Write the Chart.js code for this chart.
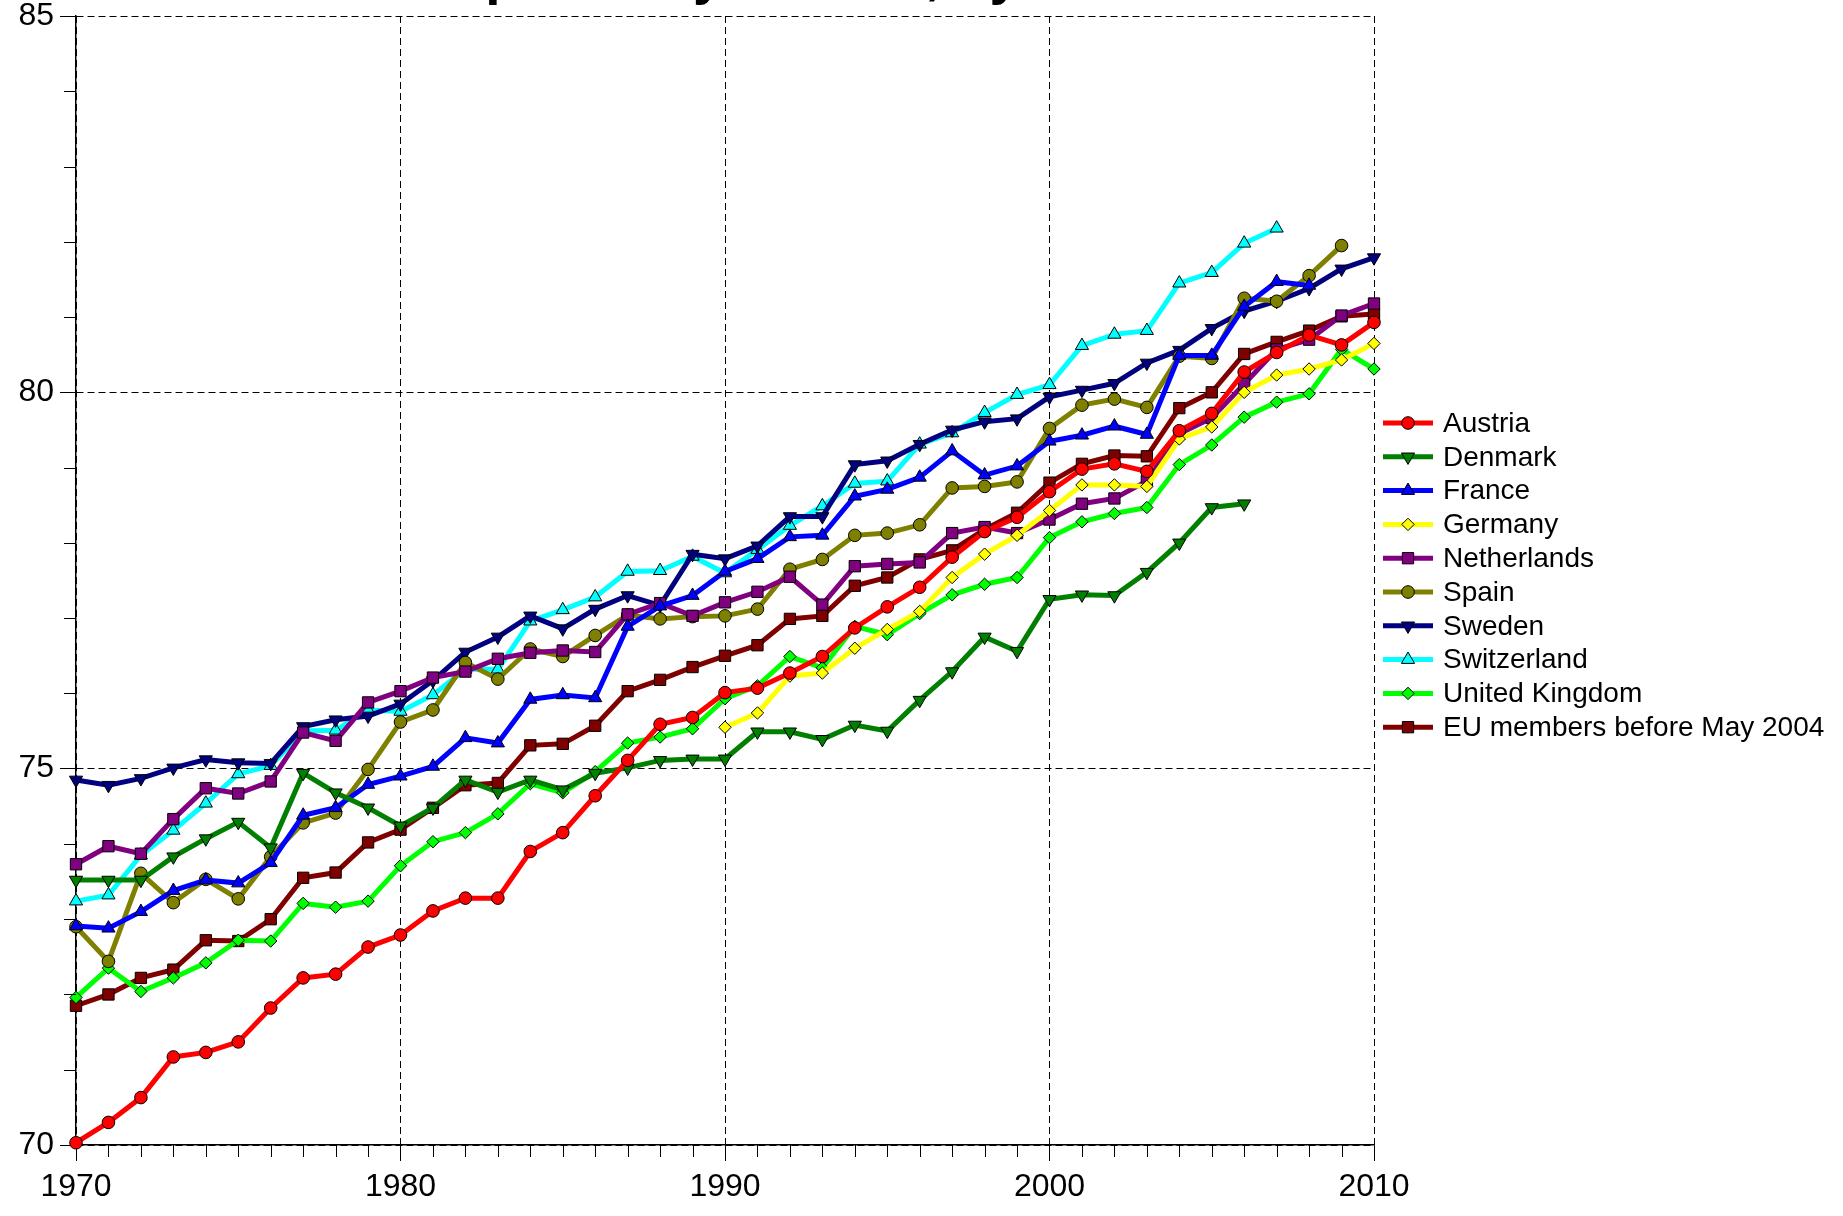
<!DOCTYPE html>
<html>
<head>
<meta charset="utf-8">
<script src="https://cdn.jsdelivr.net/npm/chart.js@4/dist/chart.umd.min.js"></script>
<style>
html,body{margin:0;padding:0;background:#fff;overflow:hidden}
#wrap{position:relative;width:1843px;height:1216px;background:#fff}
</style>
</head>
<body>
<div id="wrap"><canvas id="c" width="1843" height="1216"></canvas></div>
<script>
// ---------- data ----------
const TITLE = 'Life expectancy at birth, by sex';

const years = [1970,1971,1972,1973,1974,1975,1976,1977,1978,1979,
               1980,1981,1982,1983,1984,1985,1986,1987,1988,1989,
               1990,1991,1992,1993,1994,1995,1996,1997,1998,1999,
               2000,2001,2002,2003,2004,2005,2006,2007,2008,2009,2010];

const xTickLabels = [1970,1980,1990,2000,2010];
const yTickLabels = [70,75,80,85];

const seriesNames = ['Austria','Denmark','France','Germany','Netherlands','Spain',
                     'Sweden','Switzerland','United Kingdom','EU members before May 2004'];

const austria = [70.03,70.30,70.63,71.17,71.23,71.37,71.82,72.22,72.27,72.63,
                 72.79,73.11,73.28,73.28,73.90,74.15,74.64,75.11,75.59,75.68,
                 76.01,76.07,76.27,76.49,76.87,77.15,77.41,77.81,78.15,78.34,
                 78.68,78.98,79.05,78.95,79.49,79.72,80.27,80.53,80.76,80.63,80.93];

const denmark = [73.52,73.52,73.52,73.83,74.07,74.29,73.95,74.94,74.68,74.48,
                 74.24,74.48,74.85,74.69,74.85,74.72,74.94,75.01,75.11,75.13,
                 75.13,75.49,75.49,75.39,75.58,75.50,75.91,76.29,76.75,76.56,
                 77.25,77.31,77.30,77.61,78.00,78.47,78.52,null,null,null,null];

const france = [72.91,72.88,73.10,73.38,73.52,73.48,73.75,74.38,74.48,74.79,
                74.90,75.03,75.41,75.34,75.92,75.98,75.94,76.89,77.16,77.30,
                77.62,77.79,78.08,78.10,78.62,78.71,78.87,79.22,78.90,79.02,
                79.35,79.43,79.55,79.44,80.49,80.49,81.14,81.47,81.42,null,null];

const germany = [null,null,null,null,null,null,null,null,null,null,
                 null,null,null,null,null,null,null,null,null,null,
                 75.55,75.74,76.23,76.27,76.60,76.85,77.09,77.54,77.85,78.10,
                 78.43,78.77,78.77,78.75,79.38,79.54,80.00,80.23,80.31,80.43,80.65];

const netherlands = [73.73,73.97,73.87,74.33,74.74,74.67,74.83,75.48,75.37,75.88,
                     76.03,76.21,76.29,76.46,76.54,76.57,76.55,77.05,77.20,77.03,
                     77.21,77.35,77.55,77.18,77.69,77.72,77.74,78.13,78.21,78.13,
                     78.31,78.52,78.59,78.82,79.45,79.66,80.11,80.57,80.70,81.02,81.18];

const spain = [72.90,72.44,73.61,73.22,73.53,73.27,73.83,74.28,74.41,74.99,
               75.62,75.78,76.41,76.19,76.59,76.49,76.77,77.04,76.99,77.02,
               77.03,77.12,77.65,77.78,78.10,78.13,78.24,78.73,78.75,78.81,
               79.52,79.83,79.91,79.80,80.48,80.45,81.25,81.21,81.55,81.95,null];

const sweden = [74.85,74.78,74.87,75.01,75.12,75.08,75.07,75.56,75.65,75.70,
                75.86,76.17,76.55,76.75,77.03,76.86,77.12,77.30,77.17,77.85,
                77.79,77.96,78.35,78.35,79.04,79.09,79.31,79.50,79.61,79.65,
                79.94,80.03,80.12,80.39,80.56,80.85,81.08,81.21,81.38,81.64,81.79];

const switzerland = [73.24,73.32,73.85,74.18,74.54,74.93,75.04,75.50,75.51,75.78,
                     75.76,75.98,76.32,76.32,76.96,77.11,77.28,77.62,77.63,77.82,
                     77.60,77.91,78.23,78.49,78.79,78.82,79.31,79.46,79.73,79.97,
                     80.10,80.62,80.77,80.82,81.45,81.59,81.98,82.18,null,null,null];

const unitedKingdom = [71.96,72.35,72.04,72.22,72.42,72.72,72.71,73.21,73.16,73.24,
                       73.71,74.03,74.15,74.40,74.80,74.68,74.96,75.34,75.42,75.53,
                       75.93,76.10,76.49,76.34,76.89,76.78,77.06,77.31,77.45,77.54,
                       78.07,78.28,78.39,78.47,79.04,79.30,79.67,79.87,79.98,80.57,80.31];

const euBeforeMay2004 = [71.85,72.00,72.22,72.33,72.72,72.71,73.00,73.55,73.62,74.02,
                         74.19,74.48,74.78,74.81,75.31,75.33,75.57,76.03,76.18,76.35,
                         76.50,76.64,76.99,77.03,77.43,77.54,77.78,77.90,78.18,78.40,
                         78.80,79.05,79.16,79.15,79.79,80.00,80.51,80.67,80.82,81.01,81.04];

const seriesValues = [austria, denmark, france, germany, netherlands, spain,
                      sweden, switzerland, unitedKingdom, euBeforeMay2004];

// ---------- styles ----------
const FONT = '"Liberation Sans", Arial, Helvetica, sans-serif';
const TICK_FONT = {family: FONT, size: 32};

const seriesStyles = [
  {color:'#FF0000', point:'circle',   rot:0,   r:6.3},
  {color:'#007F00', point:'triangle', rot:180, r:7.6},
  {color:'#0000FF', point:'triangle', rot:0,   r:7.6},
  {color:'#FFFF00', point:'rectRot',  rot:0,   r:6.2},
  {color:'#800080', point:'rect',     rot:0,   r:8.0},
  {color:'#808000', point:'circle',   rot:0,   r:6.3},
  {color:'#000080', point:'triangle', rot:180, r:7.6},
  {color:'#00FFFF', point:'triangle', rot:0,   r:7.6},
  {color:'#00FF00', point:'rectRot',  rot:0,   r:6.2},
  {color:'#800000', point:'rect',     rot:0,   r:8.0}
];

const datasets = seriesNames.map((name, i) => ({
  label: name,
  data: years.map((yr, j) => ({x: yr, y: seriesValues[i][j]})),
  borderColor: seriesStyles[i].color,
  backgroundColor: seriesStyles[i].color,
  borderWidth: 5,
  tension: 0,
  spanGaps: false,
  pointStyle: seriesStyles[i].point,
  pointRotation: seriesStyles[i].rot,
  pointRadius: seriesStyles[i].r,
  pointHoverRadius: seriesStyles[i].r,
  pointBackgroundColor: seriesStyles[i].color,
  pointBorderColor: '#000',
  pointBorderWidth: 1,
  clip: false
}));

// ---------- plugins ----------
function drawMarker(ctx, style, x, y) {
  const r = style.r;
  ctx.save();
  ctx.fillStyle = style.color;
  ctx.strokeStyle = '#000';
  ctx.lineWidth = 1;
  ctx.beginPath();
  if (style.point === 'circle') {
    ctx.arc(x, y, r, 0, Math.PI * 2);
  } else if (style.point === 'triangle') {
    const rad = style.rot * Math.PI / 180;
    for (let k = 0; k < 3; k++) {
      const a = rad + k * 2 * Math.PI / 3;
      const px = x + Math.sin(a) * r, py = y - Math.cos(a) * r;
      if (k === 0) ctx.moveTo(px, py); else ctx.lineTo(px, py);
    }
    ctx.closePath();
  } else if (style.point === 'rectRot') {
    ctx.moveTo(x - r, y); ctx.lineTo(x, y - r); ctx.lineTo(x + r, y); ctx.lineTo(x, y + r);
    ctx.closePath();
  } else {
    const s = Math.SQRT1_2 * r;
    ctx.rect(x - s, y - s, 2 * s, 2 * s);
  }
  ctx.fill();
  ctx.stroke();
  ctx.restore();
}

const minorTicks = {
  id: 'minorTicks',
  afterDraw(chart) {
    const {ctx, chartArea, scales} = chart;
    const xs = scales.x, ys = scales.y;
    ctx.save();
    ctx.strokeStyle = '#000';
    ctx.lineWidth = 1;
    ctx.beginPath();
    years.forEach(yr => {
      if (xTickLabels.includes(yr)) return;
      const px = Math.round(xs.getPixelForValue(yr)) + 0.5;
      ctx.moveTo(px, chartArea.bottom);
      ctx.lineTo(px, chartArea.bottom + 12);
    });
    for (let v = yTickLabels[0]; v <= yTickLabels[yTickLabels.length - 1]; v++) {
      if (yTickLabels.includes(v)) continue;
      const py = Math.round(ys.getPixelForValue(v)) + 0.5;
      ctx.moveTo(chartArea.left - 12, py);
      ctx.lineTo(chartArea.left, py);
    }
    ctx.stroke();
    ctx.restore();
  }
};

const lineLegend = {
  id: 'lineLegend',
  afterDraw(chart) {
    const ctx = chart.ctx;
    const x0 = 1383, x1 = 1433, tx = 1443, y0 = 423, dy = 33.8;
    chart.data.datasets.forEach((ds, i) => {
      const y = y0 + i * dy;
      const st = seriesStyles[i];
      ctx.save();
      ctx.strokeStyle = st.color;
      ctx.lineWidth = 5;
      ctx.beginPath();
      ctx.moveTo(x0, y); ctx.lineTo(x1, y);
      ctx.stroke();
      ctx.restore();
      drawMarker(ctx, st, (x0 + x1) / 2, y);
      ctx.save();
      ctx.fillStyle = '#000';
      ctx.font = '28px ' + FONT;
      ctx.textAlign = 'left';
      ctx.textBaseline = 'middle';
      ctx.fillText(ds.label, tx, y + 1);
      ctx.restore();
    });
  }
};

const clippedTitle = {
  id: 'clippedTitle',
  afterDraw(chart) {
    const ctx = chart.ctx, a = chart.chartArea;
    ctx.save();
    ctx.fillStyle = '#000';
    ctx.font = 'bold 55px ' + FONT;
    ctx.textAlign = 'center';
    ctx.textBaseline = 'alphabetic';
    ctx.fillText(TITLE, (a.left + a.right) / 2 - 6, -7);
    ctx.restore();
  }
};

// ---------- chart ----------
const axisCommon = {
  type: 'linear',
  grid: {color: '#000', lineWidth: 1, tickLength: 16, tickColor: '#000', tickWidth: 1, drawTicks: true},
  border: {display: true, color: '#000', width: 1.5, dash: [7, 4]}
};

new Chart(document.getElementById('c'), {
  type: 'line',
  data: {datasets},
  options: {
    responsive: false,
    animation: false,
    events: [],
    layout: {padding: {top: 16, right: 469, left: 0, bottom: 0}},
    plugins: {legend: {display: false}, title: {display: false}, tooltip: {enabled: false}},
    scales: {
      x: Object.assign({}, axisCommon, {
        min: xTickLabels[0], max: xTickLabels[xTickLabels.length - 1],
        afterBuildTicks: s => { s.ticks = xTickLabels.map(v => ({value: v})); },
        ticks: {callback: v => String(v), color: '#000', font: TICK_FONT, padding: 7, maxRotation: 0, autoSkip: false},
        afterFit: s => { s.height = 71; s.paddingLeft = 0; s.paddingRight = 0; }
      }),
      y: Object.assign({}, axisCommon, {
        min: yTickLabels[0], max: yTickLabels[yTickLabels.length - 1],
        afterBuildTicks: s => { s.ticks = yTickLabels.map(v => ({value: v})); },
        ticks: {callback: v => String(v), color: '#000', font: TICK_FONT, padding: 6, autoSkip: false},
        afterFit: s => { s.width = 76; s.paddingTop = 0; s.paddingBottom = 0; }
      })
    }
  },
  plugins: [minorTicks, lineLegend, clippedTitle]
});
</script>
</body>
</html>
